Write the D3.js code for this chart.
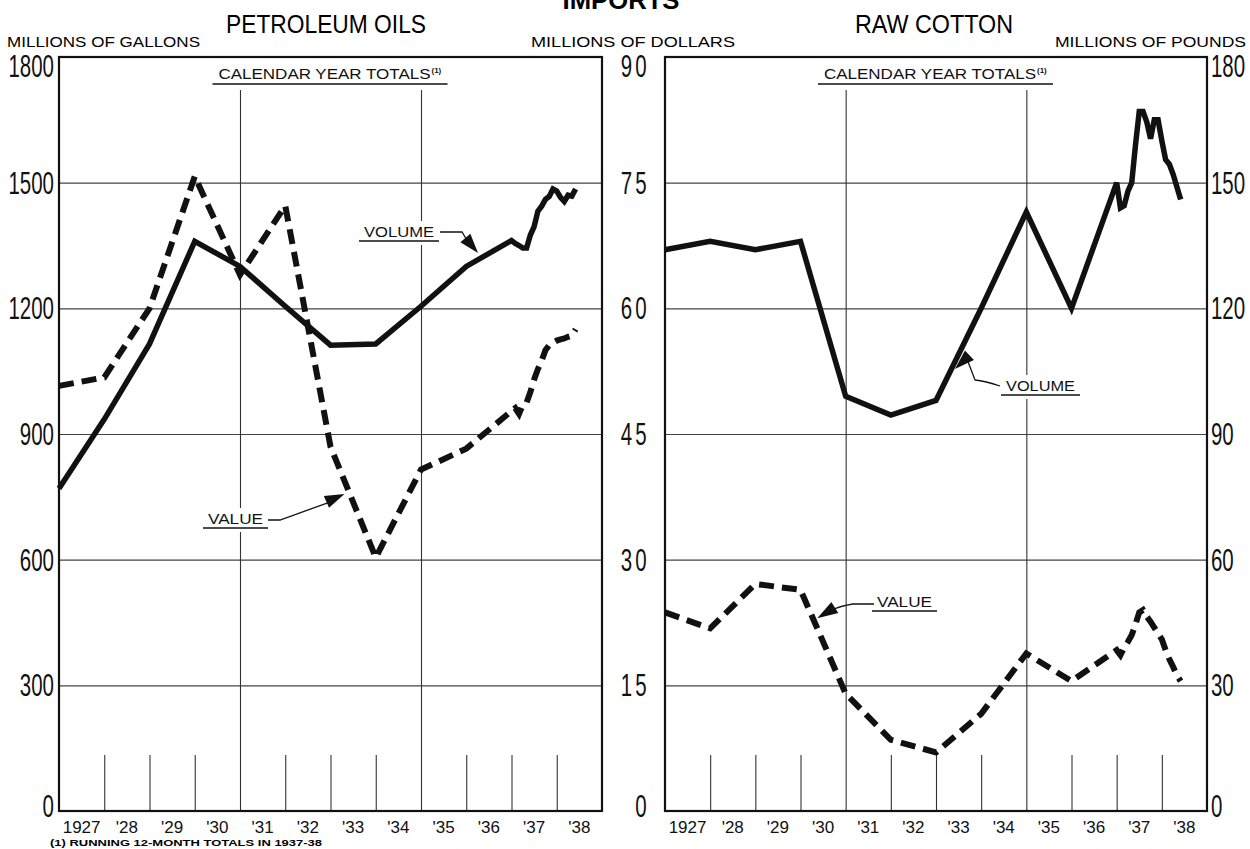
<!DOCTYPE html>
<html><head><meta charset="utf-8">
<script src="https://cdn.jsdelivr.net/npm/d3@7"></script>
<style>body{margin:0;background:#fff}svg{display:block}</style>
</head><body><svg id="c" width="1250" height="849"></svg>
<script>
// ---------------- DATA ----------------
const yearLabels = ["1927","'28","'29","'30","'31","'32","'33","'34","'35","'36","'37","'38"];
// calendar-year totals 1927..1937 (plotted at the start of each year band)
const annualIndex = [0,1,2,3,4,5,6,7,8,9,10];
// running 12-month totals 1937-38 (months after the 1937 point)
const monthIndex = [1,2,3,4,5,6,7,8,9,10,11,12,13,14,15,16,17];

const petroVolumeAnnual  = [770, 935, 1115, 1360, 1300, 1205, 1112, 1115, 1205, 1300, 1362];
const petroVolumeMonthly = [1355, 1350, 1344, 1344, 1375, 1395, 1432, 1444, 1460, 1467, 1485, 1480, 1465, 1455, 1470, 1468, 1485];
const petroValueAnnual   = [1015, 1035, 1200, 1515, 1280, 1445, 870, 605, 815, 865, 955];
const petroValueMonthly  = [962, 948, 970, 975, 1000, 1030, 1055, 1075, 1100, 1112, 1118, 1123, 1126, 1128, 1132, 1135, 1150];

const cottonVolumeAnnual  = [134, 136, 134, 136, 99, 94.5, 98, 120, 143, 120, 150];
const cottonVolumeMonthly = [144, 144.5, 148, 150, 159, 167, 167, 164.5, 160.5, 165, 165, 160, 155.5, 154.4, 152, 149, 146];
const cottonValueAnnual   = [23.7, 21.8, 27.1, 26.4, 14, 8.5, 7, 11.6, 18.8, 15.5, 19.2];
const cottonValueMonthly  = [18.6, 19.5, 20.2, 21.0, 22.3, 23.7, 24.0, 23.2, 22.6, 21.9, 21.2, 20.5, 19.2, 18.1, 17.2, 16.2, 15.5];

const gallonTicks = [0,300,600,900,1200,1500,1800];
const dollarTicks = [0,15,30,45,60,75,90];
const poundTicks  = [0,30,60,90,120,150,180];

// ---------------- LAYOUT ----------------
const TOP = 57, BOT = 811;
const svg = d3.select("#c");
const SANS = "'Liberation Sans',Arial,sans-serif";

const xL = d3.scaleLinear().domain([0,12]).range([59,602]);
const yL = d3.scaleLinear().domain([0,1800]).range([BOT,TOP]);
const xR = d3.scaleLinear().domain([0,12]).range([665,1207]);
const yRd = d3.scaleLinear().domain([0,90]).range([BOT,TOP]);
const yRp = d3.scaleLinear().domain([0,180]).range([BOT,TOP]);

function series(annual, monthly) {
  const pts = annualIndex.map((t,i)=>({t, v: annual[i]}));
  monthIndex.forEach((m,i)=>pts.push({t: 10 + m/12, v: monthly[i]}));
  return pts;
}

function drawPanel(x, y, opts) {
  const g = svg.append("g");
  const [x0,x1] = x.range();
  const grid = g.append("g").attr("transform",`translate(${x0},0)`)
    .call(d3.axisLeft(y).tickValues(opts.gridTicks).tickSize(-(x1-x0)).tickFormat(""));
  grid.select(".domain").remove();
  grid.selectAll("line").attr("stroke","#444").attr("stroke-width",1.1);
  const tk = g.append("g").attr("transform",`translate(0,${BOT})`)
    .call(d3.axisBottom(x).tickValues([1,2,3,5,6,7,9,10,11]).tickSize(-(BOT-755)).tickFormat(""));
  tk.select(".domain").remove();
  tk.selectAll("line").attr("stroke","#333").attr("stroke-width",1.1);
  const vl = g.append("g").attr("transform",`translate(0,${BOT})`)
    .call(d3.axisBottom(x).tickValues([4,8]).tickSize(-(BOT-90)).tickFormat(""));
  vl.select(".domain").remove();
  vl.selectAll("line").attr("stroke","#333").attr("stroke-width",1.1);
  g.append("rect").attr("x",x0).attr("y",TOP).attr("width",x1-x0).attr("height",BOT-TOP)
    .attr("fill","none").attr("stroke","#111").attr("stroke-width",2.2);
  g.selectAll("text.yr").data(yearLabels).join("text").attr("class","yr")
    .attr("x",(d,i)=>x(i+0.5)).attr("y",833)
    .attr("text-anchor","middle").attr("font-family",SANS).attr("font-size",17)
    .attr("fill","#111").text(d=>d);
  const cx = (x0+x1)/2;
  g.append("text").attr("x",cx-6).attr("y",79).attr("text-anchor","middle")
    .attr("font-family",SANS).attr("font-size",14.5).attr("fill","#111")
    .attr("textLength",212).attr("lengthAdjust","spacingAndGlyphs")
    .text("CALENDAR YEAR TOTALS");
  g.append("text").attr("x",cx+101).attr("y",73).attr("font-family",SANS)
    .attr("font-size",8).attr("font-weight","bold").attr("fill","#111").text("(1)");
  g.append("line").attr("x1",cx-118).attr("x2",cx+117).attr("y1",84).attr("y2",84)
    .attr("stroke","#111").attr("stroke-width",1.5);
  return g;
}

function label(g, txt, x, base, w) {
  g.append("rect").attr("x",x-4).attr("y",base-16).attr("width",w+8).attr("height",24).attr("fill","#fff");
  g.append("text").attr("x",x).attr("y",base).attr("font-family",SANS).attr("font-size",14)
    .attr("fill","#111").attr("textLength",w).attr("lengthAdjust","spacingAndGlyphs").text(txt);
  g.append("line").attr("x1",x-5).attr("x2",x+w+5).attr("y1",base+4).attr("y2",base+4)
    .attr("stroke","#111").attr("stroke-width",1.5);
}
function arrow(g, pathD, tip, base) {
  g.append("path").attr("d",pathD).attr("fill","none").attr("stroke","#111").attr("stroke-width",1.3);
  const dx = tip[0]-base[0], dy = tip[1]-base[1], L = Math.hypot(dx,dy);
  const nx = -dy/L*6.5, ny = dx/L*6.5;
  g.append("path").attr("d",`M${tip[0]},${tip[1]}L${base[0]+nx},${base[1]+ny}L${base[0]-nx},${base[1]-ny}Z`)
    .attr("fill","#111");
}

function drawLine(g, x, y, pts, dashed) {
  const line = d3.line().x(d=>x(d.t)).y(d=>y(d.v)).curve(d3.curveLinear);
  g.append("path").datum(pts).attr("d",line).attr("fill","none").attr("stroke","#111")
    .attr("stroke-width", dashed ? 6 : 5.5).attr("stroke-linejoin","miter")
    .attr("stroke-dasharray", dashed ? "15,8" : null);
}

// ---------------- LEFT PANEL ----------------
const gL = drawPanel(xL, yL, {gridTicks:[300,600,900,1200,1500]});
label(gL, "VOLUME", 364, 237, 70);
arrow(gL, `M440,232L462,232L${xL(9.02)},${yL(1362)}`, [xL(9.26), yL(1332)], [xL(8.98), yL(1368)]);
label(gL, "VALUE", 208, 524, 55);
arrow(gL, `M268,520L280,520L${xL(6.0)},${yL(738)}`, [xL(6.31), yL(757)], [xL(5.91), yL(738)]);
drawLine(gL, xL, yL, series(petroVolumeAnnual, petroVolumeMonthly), false);
drawLine(gL, xL, yL, series(petroValueAnnual, petroValueMonthly), true);

// ---------------- RIGHT PANEL ----------------
const gR = drawPanel(xR, yRd, {gridTicks:[15,30,45,60,75]});
label(gR, "VOLUME", 1006, 391, 69);
arrow(gR, `M1000,386Q985,381 975,380L${xR(6.66)},${yRp(108.6)}`, [xR(6.42), yRp(105.5)], [xR(6.74), yRp(108.8)]);
label(gR, "VALUE", 877, 607, 55);
arrow(gR, `M874,604L853,604Q840,606 ${xR(3.7)},${yRd(24)}`, [xR(3.37), yRd(23)], [xR(3.76), yRd(24.3)]);
drawLine(gR, xR, yRp, series(cottonVolumeAnnual, cottonVolumeMonthly), false);
drawLine(gR, xR, yRd, series(cottonValueAnnual, cottonValueMonthly), true);

// ---------------- AXIS NUMBERS ----------------
function labelY(yy, i, n) {
  if (i === n-1) return yy + 9;
  if (i === 0) return yy - 5;
  return yy;
}
function bigNum(x, y, txt, anchor, ls) {
  svg.append("text").attr("transform",`translate(${x},${y + 11}) scale(0.66,1)`)
    .attr("text-anchor",anchor).attr("font-family",SANS).attr("font-size",31)
    .attr("letter-spacing", ls||0).attr("fill","#111").text(txt);
}
gallonTicks.forEach((v,i)=>bigNum(54, labelY(yL(v),i,gallonTicks.length), String(v), "end"));
dollarTicks.forEach((v,i)=>bigNum(650, labelY(yRd(v),i,dollarTicks.length), String(v), "end", 5));
poundTicks.forEach((v,i)=>bigNum(1211, labelY(yRp(v),i,poundTicks.length), String(v), "start"));

// ---------------- TITLES ----------------
svg.append("text").attr("x",621).attr("y",9).attr("text-anchor","middle").attr("font-family",SANS)
  .attr("font-weight","bold").attr("font-size",26).attr("textLength",117).attr("lengthAdjust","spacingAndGlyphs").text("IMPORTS");
svg.append("text").attr("x",326).attr("y",33).attr("text-anchor","middle").attr("font-family",SANS)
  .attr("font-size",25).attr("textLength",200).attr("lengthAdjust","spacingAndGlyphs").text("PETROLEUM OILS");
svg.append("text").attr("x",934).attr("y",33).attr("text-anchor","middle").attr("font-family",SANS)
  .attr("font-size",25).attr("textLength",158).attr("lengthAdjust","spacingAndGlyphs").text("RAW COTTON");
svg.append("text").attr("x",7).attr("y",46.5).attr("font-family",SANS).attr("font-size",14)
  .attr("textLength",193).attr("lengthAdjust","spacingAndGlyphs").text("MILLIONS OF GALLONS");
svg.append("text").attr("x",531).attr("y",46.5).attr("font-family",SANS).attr("font-size",14)
  .attr("textLength",204).attr("lengthAdjust","spacingAndGlyphs").text("MILLIONS OF DOLLARS");
svg.append("text").attr("x",1055).attr("y",46.5).attr("font-family",SANS).attr("font-size",14)
  .attr("textLength",191).attr("lengthAdjust","spacingAndGlyphs").text("MILLIONS OF POUNDS");
svg.append("text").attr("x",50).attr("y",846).attr("font-family",SANS).attr("font-size",9.5)
  .attr("font-weight","bold").attr("textLength",272).attr("lengthAdjust","spacingAndGlyphs")
  .text("(1) RUNNING 12-MONTH TOTALS IN 1937-38");
</script></body></html>
